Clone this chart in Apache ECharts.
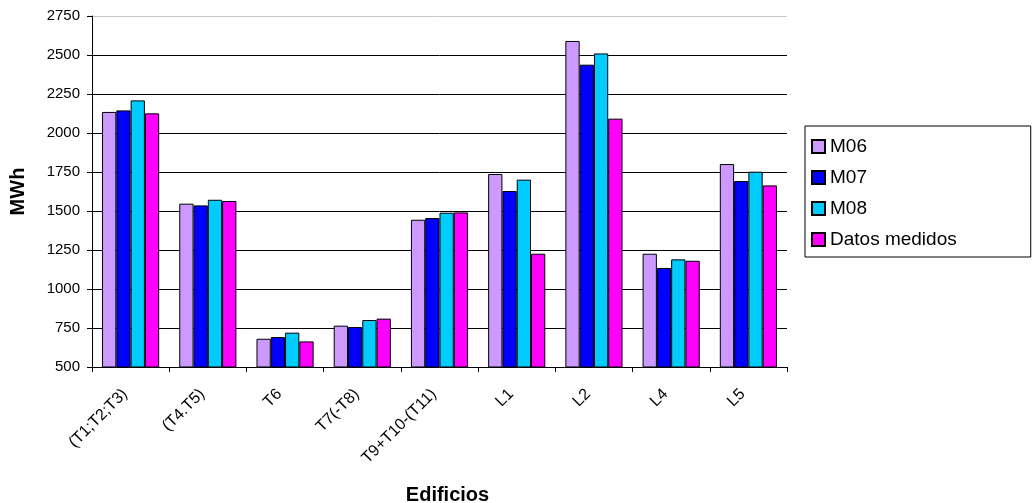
<!DOCTYPE html>
<html>
<head>
<meta charset="utf-8">
<script src="https://cdn.jsdelivr.net/npm/echarts@6/dist/echarts.min.js"></script>
<style>
  html, body { margin: 0; padding: 0; background: #fff; }
  #chart { width: 1033px; height: 503px; }
</style>
</head>
<body>
<div id="chart"></div>
<script>
// edificios y consumos (MWh)
const edificios = ['(T1;T2;T3)', '(T4.T5)', 'T6', 'T7(-T8)', 'T9+T10-(T11)', 'L1', 'L2', 'L4', 'L5']
const m06 = [2135, 1547, 681, 765, 1444, 1737, 2590, 1226, 1801]
const m07 = [2145, 1536, 692, 756, 1455, 1628, 2438, 1135, 1692]
const m08 = [2209, 1572, 720, 801, 1489, 1701, 2510, 1190, 1752]
const medidos = [2126, 1564, 664, 810, 1491, 1226, 2092, 1181, 1664]

const seriesNames = ['M06', 'M07', 'M08', 'Datos medidos']
const seriesColors = ['#CC99FF', '#0000FF', '#00CCFF', '#FF00FF']
const seriesData = [m06, m07, m08, medidos]

const font = 'Liberation Sans, Arial, sans-serif'

// 10 lineas de rejilla: 500 ... 2750, la de arriba gris
const gridColors = ['#000', '#000', '#000', '#000', '#000', '#000', '#000', '#000', '#000', '#c8c8c8']

const chart = echarts.init(document.getElementById('chart'))
chart.setOption({
  animation: false,
  textStyle: { fontFamily: font },
  grid: { left: 92, right: 246, top: 16, bottom: 136, outerBoundsMode: 'none', containLabel: false },
  legend: {
    orient: 'vertical',
    left: 805,
    top: 126,
    data: seriesNames,
    icon: 'rect',
    itemWidth: 13,
    itemHeight: 13,
    itemGap: 12,
    padding: [11, 74, 8, 6],
    borderColor: '#000',
    borderWidth: 1,
    backgroundColor: '#fff',
    textStyle: { fontSize: 19, color: '#000', fontFamily: font }
  },
  xAxis: {
    type: 'category',
    data: edificios,
    name: 'Edificios',
    nameLocation: 'middle',
    nameGap: 118,
    nameTextStyle: { fontSize: 20, fontWeight: 'bold', color: '#000', padding: [0, 0, 0, 16] },
    axisLine: { lineStyle: { color: '#000', width: 1 } },
    axisTick: { show: true, length: 5, lineStyle: { color: '#000' } },
    axisLabel: { rotate: 45, fontSize: 16, color: '#000', margin: 19, padding: [0, 8, 0, 0] }
  },
  yAxis: {
    type: 'value',
    min: 500,
    max: 2750,
    interval: 250,
    name: 'MWh',
    nameLocation: 'middle',
    nameGap: 64,
    nameRotate: 90,
    nameTextStyle: { fontSize: 20, fontWeight: 'bold', color: '#000' },
    axisLine: { show: true, lineStyle: { color: '#000', width: 1 } },
    axisTick: { show: true, length: 5, lineStyle: { color: '#000' } },
    axisLabel: { fontSize: 15, color: '#000', margin: 12, formatter: v => String(v) },
    splitLine: { show: true, lineStyle: { color: gridColors, width: 1 } }
  },
  series: seriesNames.map((name, i) => ({
    name: name,
    type: 'bar',
    data: seriesData[i],
    barGap: '0%',
    barCategoryGap: '26%',
    itemStyle: { color: seriesColors[i], borderColor: '#000', borderWidth: 1 }
  }))
})
</script>
</body>
</html>
